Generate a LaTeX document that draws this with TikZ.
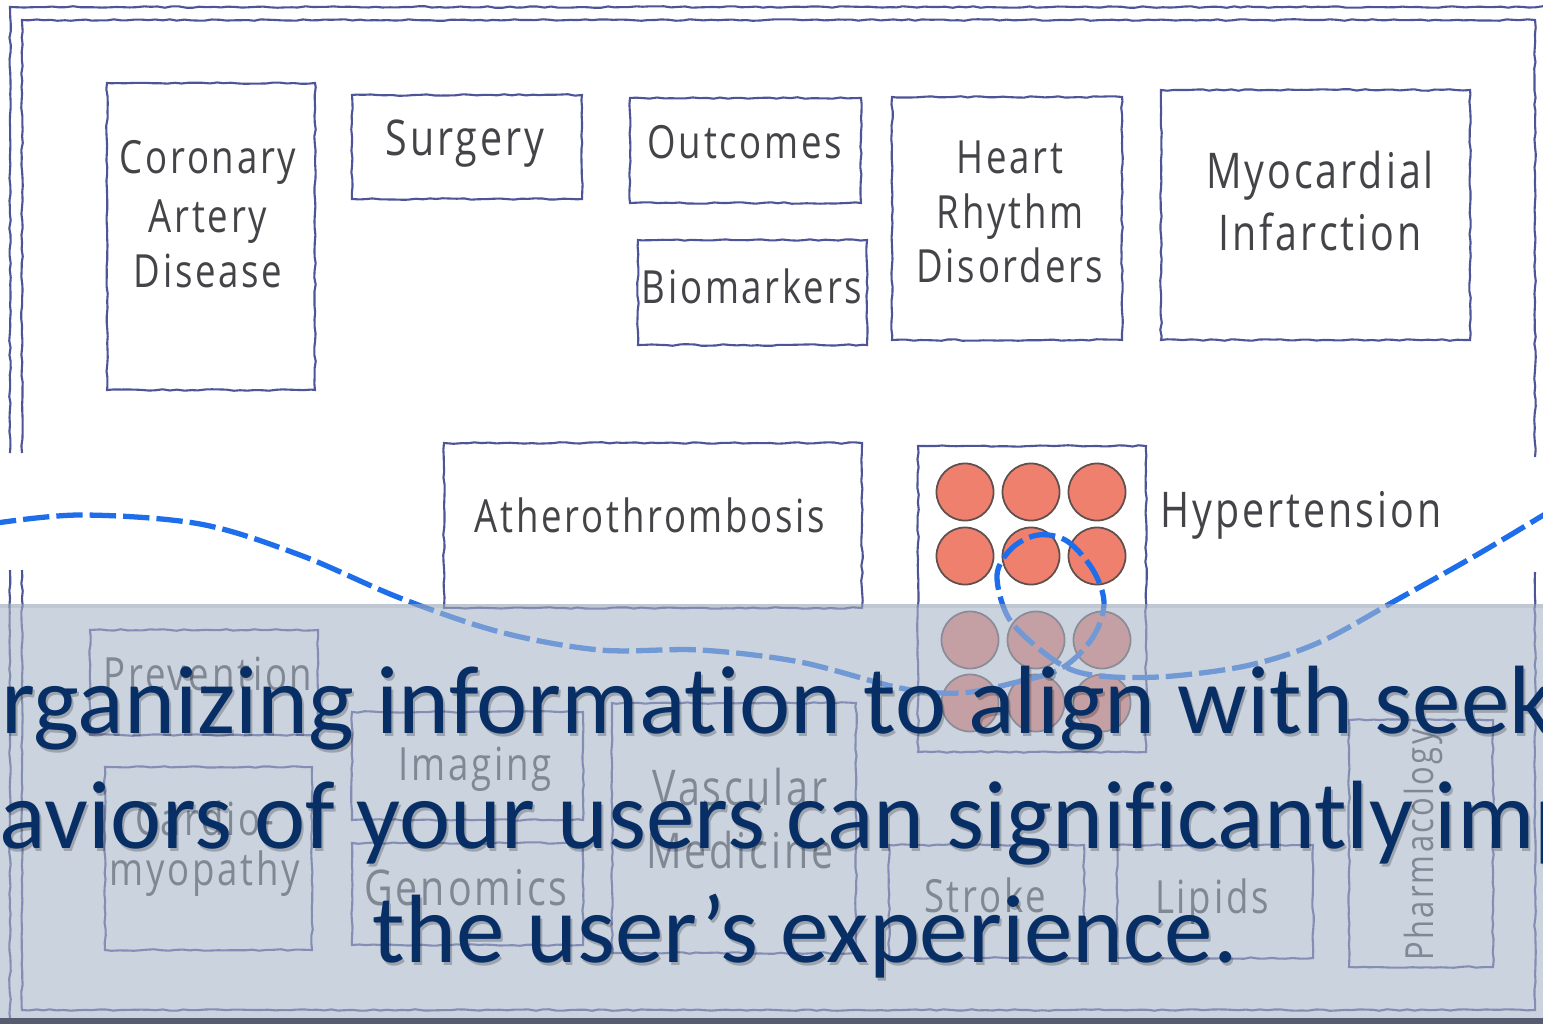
\documentclass[tikz,border=0pt]{standalone}
\usepackage{fontspec}
\setmainfont{Carlito}[Ligatures=NoCommon]
\newfontfamily\hand{Open Sans}[FakeStretch=0.8,LetterSpace=6]
\usetikzlibrary{decorations.pathmorphing,fit}
\definecolor{ink}{RGB}{78,84,152}
\definecolor{lab}{RGB}{68,68,72}
\definecolor{salmon}{RGB}{240,128,110}
\definecolor{cedge}{RGB}{95,80,78}
\definecolor{wavec}{RGB}{30,110,235}
\definecolor{bandc}{RGB}{168,182,200}
\definecolor{navy}{RGB}{8,46,102}
\definecolor{bottomc}{RGB}{88,92,112}
\tikzset{
  skb/.style={draw=ink, line width=0.6pt, decorate,
    decoration={random steps,segment length=2pt,amplitude=0.22pt},
    inner sep=0pt, rectangle},
  frameline/.style={draw=ink, line width=0.6pt, decorate,
    decoration={random steps,segment length=2pt,amplitude=0.22pt}},
  lbl/.style={font=\hand\fontsize{13}{15}\selectfont, text=lab, anchor=base, inner sep=0pt},
  biglbl/.style={lbl, font=\hand\fontsize{14}{16}\selectfont},
  dot/.style={circle, minimum size=0.57cm, inner sep=0pt, fill=salmon, draw=cedge, line width=0.5pt},
  wave/.style={draw=wavec, line width=1.5pt, dash pattern=on 7.5pt off 2pt},
  maintext/.style={font=\fontsize{27.6}{33}\selectfont, text=navy, anchor=base, inner sep=0pt},
  shadowtext/.style={maintext, text=black, text opacity=0.22},
}
\begin{document}
\begin{tikzpicture}[x=0.01cm, y=-0.01cm]
\useasboundingbox (0,0) rectangle (1543,1024);
\clip (0,0) rectangle (1543,1024);
\fill[white] (0,0) rectangle (1543,1024);

% frames
\draw[frameline] (10,453) -- (10,7) -- (1560,7);
\draw[frameline] (10,570) -- (10,1018);
\draw[frameline] (22,453) -- (22,20) -- (1535,20) -- (1535,457);
\draw[frameline] (22,570) -- (22,1010) -- (1535,1010) -- (1535,572);

% top boxes
\node[skb, fit={(107,83)(315,390)}] (cad) {};
\node[lbl] (cadt1) at (208,173) {Coronary};
\node[lbl] (cadt2) at (208,232) {Artery};
\node[lbl] (cadt3) at (208,287) {Disease};

\node[skb, fit={(352,95)(582,199)}] (surg) {};
\node[biglbl] (surgt) at (465,155) {Surgery};

\node[skb, fit={(630,98)(861,203)}] (outc) {};
\node[lbl] (outct) at (745,158) {Outcomes};

\node[skb, fit={(638,240)(867,345)}] (biom) {};
\node[lbl] (biomt) at (752,303) {Biomarkers};

\node[skb, fit={(892,97)(1122,340)}] (hrd) {};
\node[lbl] (hrdt1) at (1010,173) {Heart};
\node[lbl] (hrdt2) at (1010,228) {Rhythm};
\node[lbl] (hrdt3) at (1010,282) {Disorders};

\node[skb, fit={(1161,90)(1470,340)}] (mi) {};
\node[biglbl] (mit1) at (1320,188) {Myocardial};
\node[biglbl] (mit2) at (1320,250) {Infarction};

\node[skb, fit={(444,443)(862,608)}] (athero) {};
\node[lbl] (atherot) at (650,532) {Atherothrombosis};

\node[skb, fit={(918,446)(1146,752)}] (hyp) {};
\node[biglbl, anchor=base west] (hypt) at (1160,527) {Hypertension};

% lower boxes
\node[skb, fit={(90,630)(318,735)}] (prev) {};
\node[lbl] (prevt) at (208,690) {Prevention};

\node[skb, fit={(105,767)(312,950)}] (cardio) {};
\node[lbl] (cardiot1) at (205,835) {Cardio-};
\node[lbl] (cardiot2) at (205,885) {myopathy};

\node[skb, fit={(352,712)(583,820)}] (imag) {};
\node[lbl] (imagt) at (475,780) {Imaging};

\node[skb, fit={(352,843)(583,945)}] (geno) {};
\node[biglbl] (genot) at (466,905) {Genomics};

\node[skb, fit={(612,703)(856,953)}] (vasc) {};
\node[biglbl] (vasct1) at (740,805) {Vascular};
\node[biglbl] (vasct2) at (740,868) {Medicine};

\node[skb, fit={(889,845)(1084,958)}] (stroke) {};
\node[lbl] (stroket) at (985,912) {Stroke};

\node[skb, fit={(1117,845)(1313,958)}] (lipids) {};
\node[lbl] (lipidst) at (1212,913) {Lipids};

\node[skb, fit={(1349,720)(1493,967)}] (pharm) {};
\node[lbl, font=\hand\fontsize{11}{13}\selectfont, rotate=90, anchor=center] (pharmt) at (1423,845) {Pharmacology};

% circles
\foreach \r/\yy/\dx in {1/492/0, 2/556/0, 3/640/5, 4/703/5}{
  \node[dot] (c\r a) at (965+\dx,\yy) {};
  \node[dot] (c\r b) at (1031+\dx,\yy) {};
  \node[dot] (c\r c) at (1097+\dx,\yy) {};
}

% wave with loop
\draw[wave] plot[smooth, tension=0.55] coordinates {
 (-10,524) (80,515) (200,524) (300,555) (400,598) (500,632) (600,650) (700,650)
 (800,662) (900,688) (960,693) (1013,683) (1062,668) (1093,637) (1104,603)
 (1093,570) (1067,541) (1038,535) (1012,548) (997,575) (1008,617) (1038,648)
 (1072,670) (1113,677) (1173,676) (1250,665) (1320,642) (1400,598) (1480,553) (1560,505)};

% translucent band
\fill[bandc, fill opacity=0.6] (0,604) rectangle (1543,1024);
\fill[black, fill opacity=0.05] (0,604) rectangle (1543,608);
\draw[bottomc, line width=1.6pt] (0,1021) -- (1543,1021);

% overlay text
\node[shadowtext] (s1) at (807,736) {Organizing information to align with seeking};
\node[shadowtext] (s2) at (807,851) {behaviors of your users can significantly improve};
\node[shadowtext] (s3) at (807,965) {the user’s experience.};
\node[maintext] (t1) at (805,733) {Organizing information to align with seeking};
\node[maintext] (t2) at (805,848) {behaviors of your users can significantly improve};
\node[maintext] (t3) at (805,962) {the user’s experience.};
\end{tikzpicture}
\end{document}
